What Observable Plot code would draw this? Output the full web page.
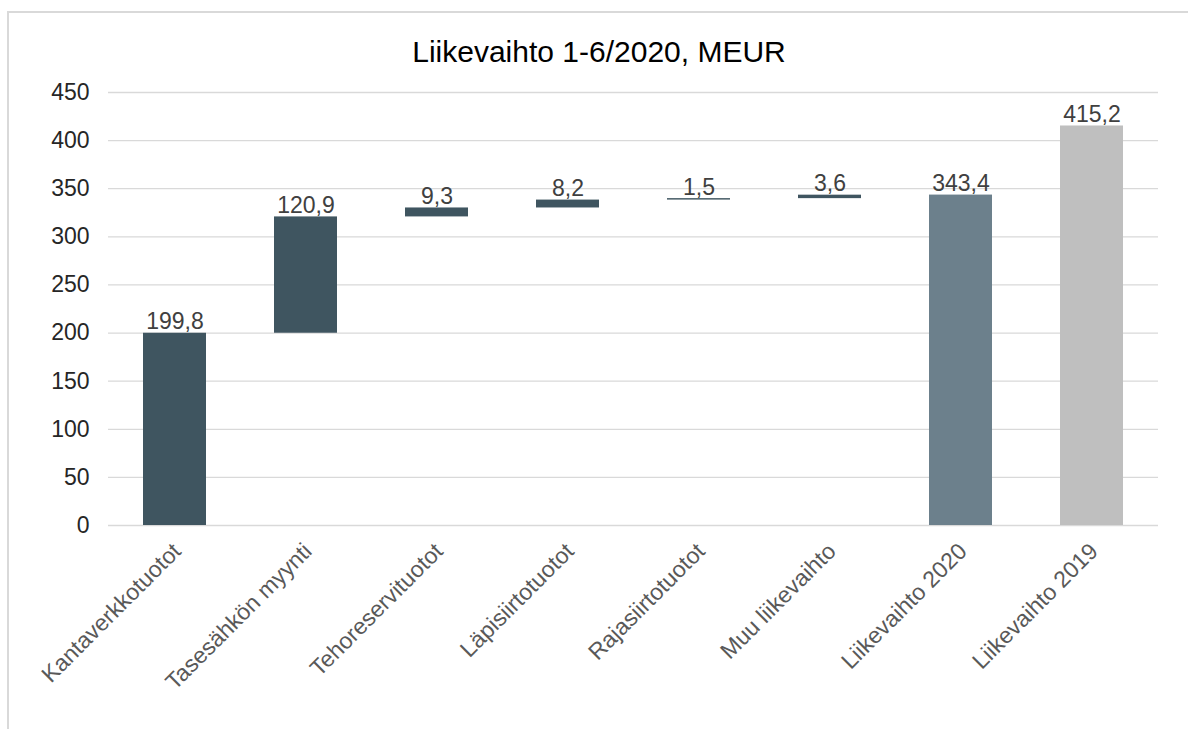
<!DOCTYPE html>
<html>
<head>
<meta charset="utf-8">
<script src="https://cdn.jsdelivr.net/npm/d3@7"></script>
<script src="https://cdn.jsdelivr.net/npm/@observablehq/plot@0.6"></script>
<style>
  html, body { margin: 0; padding: 0; background: #fff; width: 1188px; height: 729px; overflow: hidden; }
  #frame { position: absolute; left: 7px; top: 11px; width: 1300px; height: 900px;
           border-left: 2px solid #D9D9D9; border-top: 2px solid #D9D9D9; }
  #title { position: absolute; left: 0; top: 37px; width: 1198px; text-align: center;
           font-family: "Liberation Sans", Arial, sans-serif; font-size: 30px; line-height: 29px; color: #000; }
  #chart { position: absolute; left: 0; top: 0; }
</style>
</head>
<body>
<div id="frame"></div>
<div id="chart"></div>
<div id="title">Liikevaihto 1-6/2020, MEUR</div>
<script>
const categories = ["Kantaverkkotuotot", "Tasesähkön myynti", "Tehoreservituotot", "Läpisiirtotuotot",
                    "Rajasiirtotuotot", "Muu liikevaihto", "Liikevaihto 2020", "Liikevaihto 2019"];
const values = [199.8, 120.9, 9.3, 8.2, 1.5, 3.6, 343.4, 415.2];
const kinds = ["step", "step", "step", "step", "step", "step", "total", "previous"];
const yTicks = [0, 50, 100, 150, 200, 250, 300, 350, 400, 450];

const kindColor = { step: "#3F5560", total: "#6C808C", previous: "#BFBFBF" };

let running = 0;
const rows = categories.map((cat, i) => {
  let start, end;
  if (kinds[i] === "step") { start = running; end = running + values[i]; running = end; }
  else { start = 0; end = values[i]; }
  return { cat, start, end, top: Math.max(start, end), color: kindColor[kinds[i]],
           label: values[i].toFixed(1).replace(".", ",") };
});

const chart = Plot.plot({
  width: 1188, height: 729,
  marginTop: 92, marginBottom: 204, marginLeft: 108, marginRight: 30,
  style: { fontFamily: "'Liberation Sans', Arial, sans-serif", background: "transparent", overflow: "visible" },
  x: { domain: categories, paddingInner: 0.52, paddingOuter: 0.26, label: null },
  y: { domain: [0, 450], label: null },
  marks: [
    Plot.gridY(yTicks, { stroke: "#D9D9D9", strokeOpacity: 1, strokeWidth: 1.3 }),
    Plot.axisY(yTicks, { tickSize: 0, tickPadding: 19, fontSize: 23, color: "#262626", label: null }),
    Plot.axisX({ tickSize: 0, tickRotate: -45, tickPadding: 22, dx: 2, fontSize: 23, color: "#595959", label: null }),
    Plot.barY(rows, { x: "cat", y1: "start", y2: "end", fill: "color" }),
    Plot.text(rows, { x: "cat", y: "top", text: "label", lineAnchor: "bottom", dy: -4, fontSize: 23, fill: "#404040" })
  ]
});
document.getElementById("chart").appendChild(chart);
</script>
</body>
</html>
